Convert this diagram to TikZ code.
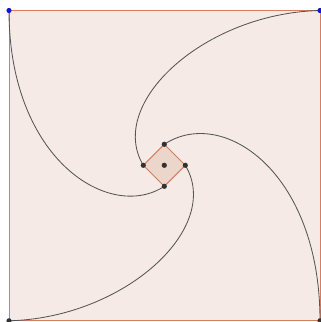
\documentclass[tikz,border=0pt]{standalone}
\usepackage{tikz}
\usetikzlibrary{positioning,calc}

\definecolor{sqfill}{RGB}{245,234,230}
\definecolor{sqedge}{RGB}{216,126,96}
\definecolor{dmfill}{RGB}{236,213,202}
\definecolor{dmedge}{RGB}{208,128,92}
\definecolor{ptblue}{RGB}{20,20,205}
\definecolor{ptdark}{RGB}{50,50,50}
\definecolor{curvegray}{RGB}{85,85,85}

\begin{document}
\begin{tikzpicture}[
    x=0.025cm, y=-0.025cm,
    square/.style={draw=sqedge, fill=sqfill, line width=0.7pt},
    diamondbox/.style={draw=dmedge, fill=dmfill, line width=0.7pt},
    curve/.style={draw=curvegray, line width=0.6pt},
    dot/.style={circle, fill=ptdark, inner sep=0pt, minimum size=0.13cm},
    bluedot/.style={dot, fill=ptblue},
]
\useasboundingbox (0,0) rectangle (321,322);

% Corners of the square
\coordinate (tl) at (9,10.5);
\coordinate (tr) at (320,10.5);
\coordinate (br) at (320,320.8);
\coordinate (bl) at (9,320.8);

% Small square in the middle
\coordinate (mid) at (164.3,165.3);
\coordinate (vt) at (164.3,144.3);
\coordinate (vr) at (185.3,165.3);
\coordinate (vb) at (164.3,186.3);
\coordinate (vl) at (143.3,165.3);

\draw[square] (tl) -- (tr) -- (br) -- (bl) -- cycle;
\draw[diamondbox] (vt) -- (vr) -- (vb) -- (vl) -- cycle;

% Curves from the corners
\draw[curve] (tl) .. controls (9,160) and (110,222) .. (vb);
\draw[curve] (tr) .. controls (205,13) and (106,103) .. (vl);
\draw[curve] (br) .. controls (320,171) and (222,106) .. (vt);
\draw[curve] (bl) .. controls (124,318) and (223,228) .. (vr);

% Points
\node[bluedot] (ptl) at (tl) {};
\node[bluedot] (ptr) at (tr) {};
\node[dot] (pbr) at (br) {};
\node[dot] (pbl) at (bl) {};
\node[dot] (pvt) at (vt) {};
\node[dot] (pvr) at (vr) {};
\node[dot] (pvb) at (vb) {};
\node[dot] (pvl) at (vl) {};
\node[dot] (pmid) at (mid) {};

\end{tikzpicture}
\end{document}
